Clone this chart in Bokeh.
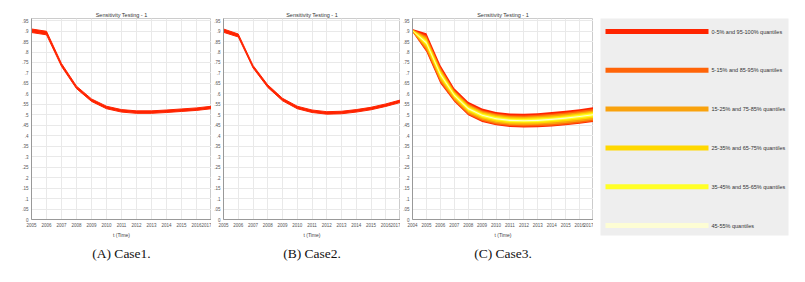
from bokeh.plotting import figure
from bokeh.layouts import row
from bokeh.models import Range1d, FixedTicker, Title
from bokeh.core.properties import value
from bokeh.embed import file_html
from bokeh.resources import INLINE

# ---------------- data ----------------
Y_TICKS = [0, 0.05, 0.1, 0.15, 0.2, 0.25, 0.3, 0.35, 0.4, 0.45, 0.5,
           0.55, 0.6, 0.65, 0.7, 0.75, 0.8, 0.85, 0.9, 0.95]
Y_TICK_LABELS = ["0", ".05", ".1", ".15", ".2", ".25", ".3", ".35", ".4", ".45", ".5",
                 ".55", ".6", ".65", ".7", ".75", ".8", ".85", ".9", ".95"]

YEARS_AB = [2005, 2006, 2007, 2008, 2009, 2010, 2011, 2012, 2013, 2014, 2015, 2016, 2017]
YEARS_C = [2004, 2005, 2006, 2007, 2008, 2009, 2010, 2011, 2012, 2013, 2014, 2015, 2016, 2017]

A_UPPER = [0.910, 0.899, 0.745, 0.637, 0.576, 0.541, 0.525, 0.519, 0.519, 0.523, 0.528, 0.533, 0.541]
A_LOWER = [0.893, 0.882, 0.731, 0.625, 0.564, 0.529, 0.513, 0.507, 0.507, 0.511, 0.516, 0.521, 0.529]

B_UPPER = [0.910, 0.886, 0.736, 0.643, 0.579, 0.541, 0.523, 0.515, 0.517, 0.525, 0.536, 0.552, 0.571]
B_LOWER = [0.894, 0.872, 0.724, 0.631, 0.567, 0.529, 0.511, 0.503, 0.505, 0.513, 0.524, 0.540, 0.559]

# Case 3 quantile envelopes
C_Q0   = [0.895, 0.800, 0.650, 0.562, 0.498, 0.466, 0.450, 0.442, 0.440, 0.441, 0.444, 0.450, 0.457, 0.466]
C_Q5   = [0.896, 0.805, 0.655, 0.566, 0.502, 0.470, 0.454, 0.446, 0.444, 0.445, 0.448, 0.454, 0.461, 0.470]
C_Q15  = [0.897, 0.814, 0.664, 0.572, 0.508, 0.476, 0.460, 0.452, 0.450, 0.452, 0.455, 0.461, 0.468, 0.477]
C_Q25  = [0.899, 0.824, 0.674, 0.580, 0.515, 0.483, 0.467, 0.459, 0.458, 0.459, 0.463, 0.469, 0.476, 0.485]
C_Q35  = [0.901, 0.833, 0.683, 0.586, 0.522, 0.490, 0.474, 0.466, 0.464, 0.466, 0.470, 0.476, 0.483, 0.492]
C_Q45  = [0.902, 0.840, 0.690, 0.591, 0.527, 0.495, 0.479, 0.471, 0.469, 0.471, 0.475, 0.481, 0.489, 0.498]
C_Q55  = [0.903, 0.847, 0.697, 0.596, 0.532, 0.500, 0.484, 0.476, 0.474, 0.477, 0.481, 0.487, 0.494, 0.503]
C_Q65  = [0.904, 0.854, 0.704, 0.602, 0.537, 0.505, 0.489, 0.481, 0.480, 0.482, 0.486, 0.492, 0.500, 0.509]
C_Q75  = [0.906, 0.862, 0.712, 0.608, 0.543, 0.511, 0.495, 0.487, 0.486, 0.488, 0.492, 0.498, 0.506, 0.515]
C_Q85  = [0.907, 0.870, 0.720, 0.613, 0.549, 0.517, 0.501, 0.493, 0.491, 0.494, 0.499, 0.505, 0.512, 0.521]
C_Q95  = [0.908, 0.878, 0.727, 0.619, 0.554, 0.522, 0.506, 0.498, 0.497, 0.500, 0.505, 0.511, 0.519, 0.528]
C_Q100 = [0.910, 0.889, 0.738, 0.627, 0.562, 0.530, 0.514, 0.506, 0.505, 0.508, 0.513, 0.519, 0.527, 0.536]

LEGEND_LABELS = ["0-5% and 95-100% quantiles", "5-15% and 85-95% quantiles",
                 "15-25% and 75-85% quantiles", "25-35% and 65-75% quantiles",
                 "35-45% and 55-65% quantiles", "45-55% quantiles"]
BAND_COLORS = ["#ff2400", "#ff6408", "#f9a20c", "#ffd800", "#ffff26", "#fdfdd4"]

CAPTIONS = ["(A) Case1.", "(B) Case2.", "(C) Case3."]
PANEL_TITLE = "Sensitivity Testing - 1"

FONT = "Liberation Sans"
H = 274


def make_panel(years, width, border_left, caption):
    p = figure(width=width, height=H,
               x_range=Range1d(years[0], years[-1]), y_range=Range1d(0, 0.96),
               output_backend="svg", toolbar_location=None,
               min_border_left=border_left, min_border_right=0,
               min_border_top=18, min_border_bottom=55,
               background_fill_color="white", border_fill_color="white")
    p.title.text = PANEL_TITLE
    p.title.align = "center"
    p.title.text_font = FONT
    p.title.text_font_size = "5.5px"
    p.title.text_font_style = "normal"
    p.title.text_color = "#333333"
    p.title.standoff = 1
    p.title.offset = 0
    p.outline_line_color = "#cccccc"

    p.yaxis.ticker = FixedTicker(ticks=Y_TICKS)
    p.yaxis.major_label_overrides = {t: l for t, l in zip(Y_TICKS, Y_TICK_LABELS)}
    p.xaxis.ticker = FixedTicker(ticks=years)
    p.xaxis.major_label_overrides = {y: str(y) for y in years}
    for ax in (p.xaxis, p.yaxis):
        ax.major_label_text_font = FONT
        ax.major_label_text_font_size = "4.5px"
        ax.major_label_text_color = "#555555"
        ax.axis_line_color = "#999999"
        ax.major_tick_out = 0
        ax.major_tick_in = 0
        ax.minor_tick_out = 0
        ax.minor_tick_in = 0
        ax.major_label_standoff = 3
    p.xaxis.major_label_standoff = 3
    p.xaxis.axis_label = "t (Time)"
    p.xaxis.axis_label_text_font = FONT
    p.xaxis.axis_label_text_font_size = "5px"
    p.xaxis.axis_label_text_font_style = "normal"
    p.xaxis.axis_label_text_color = "#444444"
    p.xaxis.axis_label_standoff = 2

    p.xgrid.ticker = FixedTicker(ticks=years)
    p.ygrid.ticker = FixedTicker(ticks=Y_TICKS)
    p.grid.grid_line_color = "#e9e9e9"

    cap = Title(text=caption, align="center", text_font="Liberation Serif",
                text_font_size="13.5px", text_font_style="normal",
                text_color="#111111", standoff=7, offset=0)
    p.add_layout(cap, "below")
    return p


pa = make_panel(YEARS_AB, 211, 31, CAPTIONS[0])
pa.varea(x=YEARS_AB, y1=A_LOWER, y2=A_UPPER, fill_color=BAND_COLORS[0])
pa.line(YEARS_AB, A_UPPER, line_color=BAND_COLORS[0], line_width=1)
pa.line(YEARS_AB, A_LOWER, line_color=BAND_COLORS[0], line_width=1)

pb = make_panel(YEARS_AB, 189, 11, CAPTIONS[1])
pb.varea(x=YEARS_AB, y1=B_LOWER, y2=B_UPPER, fill_color=BAND_COLORS[0])
pb.line(YEARS_AB, B_UPPER, line_color=BAND_COLORS[0], line_width=1)
pb.line(YEARS_AB, B_LOWER, line_color=BAND_COLORS[0], line_width=1)

pc = make_panel(YEARS_C, 193, 11, CAPTIONS[2])
lows = [C_Q0, C_Q5, C_Q15, C_Q25, C_Q35, C_Q45]
highs = [C_Q100, C_Q95, C_Q85, C_Q75, C_Q65, C_Q55]
for lo, hi, col in zip(lows, highs, BAND_COLORS):
    pc.varea(x=YEARS_C, y1=lo, y2=hi, fill_color=col)

# legend panel (figure-pixel coordinates, y pointing down)
LW = 204
pl = figure(width=LW, height=H, x_range=Range1d(0, LW), y_range=Range1d(H, 0),
            output_backend="svg", toolbar_location=None, min_border=0,
            x_axis_location=None, y_axis_location=None,
            background_fill_color="white", border_fill_color="white")
pl.frame_align = False
pl.grid.visible = False
pl.outline_line_color = None
pl.quad(left=7, right=195, top=18, bottom=235, fill_color="#eeeeee", line_color=None)
n = len(LEGEND_LABELS)
ys = [31 + i * 38.8 for i in range(n)]
pl.segment(x0=[12] * n, x1=[115] * n, y0=ys, y1=ys, line_color=BAND_COLORS, line_width=5)
pl.text(x=[118] * n, y=ys, text=LEGEND_LABELS, text_font=value(FONT),
        text_font_size="5.5px", text_baseline="middle", text_color="#333333")

layout = row(pa, pb, pc, pl, spacing=0)
open("out.html", "w").write(file_html(layout, INLINE))
